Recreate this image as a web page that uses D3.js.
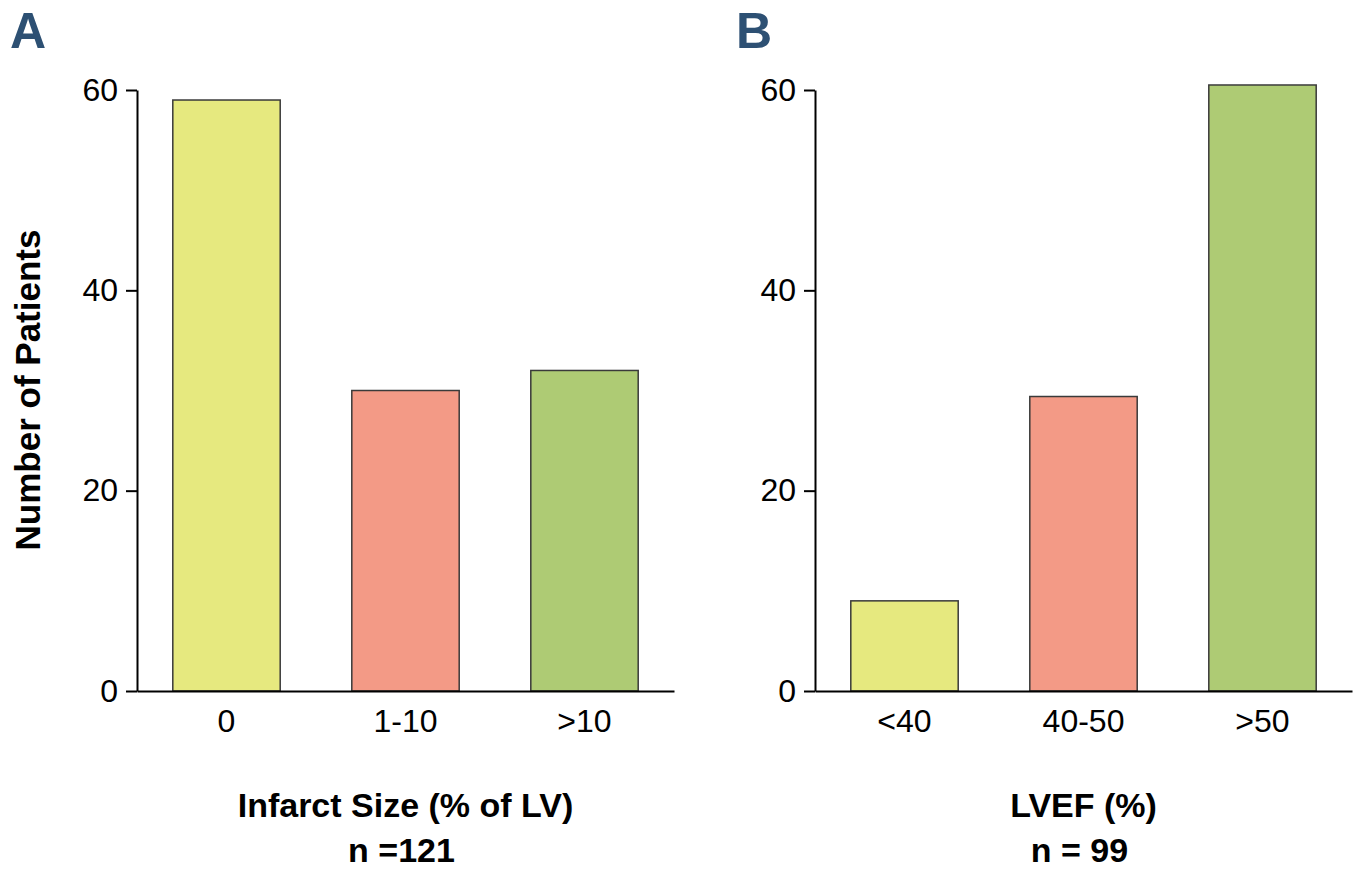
<!DOCTYPE html>
<html>
<head>
<meta charset="utf-8">
<script src="https://cdn.jsdelivr.net/npm/d3@7/dist/d3.min.js"></script>
<style>
  html, body { margin: 0; padding: 0; background: #fff; }
  svg { display: block; }
</style>
</head>
<body>
<svg id="chart" width="1358" height="871"></svg>
<script>
// ---- data ----
const categoriesA = ["0", "1-10", ">10"];
const valuesA = [59, 30, 32];
const categoriesB = ["<40", "40-50", ">50"];
const valuesB = [9, 29.4, 60.5];
const barColors = ["#e6e97f", "#f39a86", "#aecb74"];
const yTicks = [0, 20, 40, 60];
const panelLetters = ["A", "B"];
const xTitlesA = ["Infarct Size (% of LV)", "n =121"];
const xTitlesB = ["LVEF (%)", "n = 99"];
const yTitle = "Number of Patients";

const svg = d3.select("#chart");
const font = "'Liberation Sans', Arial, Helvetica, sans-serif";

const plotTop = 90, plotBottom = 691;
const y = d3.scaleLinear().domain([0, 60]).range([plotBottom, plotTop]);

function panel(x0, x1, cats, vals, letter, letterX, titles) {
  const g = svg.append("g");
  const x = d3.scaleBand().domain(cats).range([x0, x1]).paddingInner(0.4).paddingOuter(0.2);

  // bars
  g.selectAll("rect.bar").data(cats).enter().append("rect")
    .attr("class", "bar")
    .attr("x", d => x(d))
    .attr("width", x.bandwidth())
    .attr("y", (d, i) => y(vals[i]))
    .attr("height", (d, i) => y(0) - y(vals[i]))
    .attr("fill", (d, i) => barColors[i])
    .attr("stroke", "#3a3a3a")
    .attr("stroke-width", 1.5);

  // y axis
  const ya = g.append("g").attr("transform", `translate(${x0},0)`)
    .call(d3.axisLeft(y).tickValues(yTicks).tickSize(11).tickSizeOuter(0).tickPadding(8));
  ya.select(".domain").attr("stroke", "#000").attr("stroke-width", 2);
  ya.selectAll(".tick line").attr("stroke", "#000").attr("stroke-width", 2);
  ya.selectAll(".tick text").attr("font-family", font).attr("font-size", 32).attr("fill", "#000");

  // x axis
  const xa = g.append("g").attr("transform", `translate(0,${plotBottom})`)
    .call(d3.axisBottom(x).tickSize(0).tickSizeOuter(0).tickPadding(18));
  xa.select(".domain").attr("stroke", "#000").attr("stroke-width", 2);
  xa.selectAll(".tick text").attr("font-family", font).attr("font-size", 32).attr("fill", "#000");

  // x title
  const cx = (x0 + x1) / 2;
  g.append("text").attr("x", cx).attr("y", 817).attr("text-anchor", "middle")
    .attr("font-family", font).attr("font-weight", "bold").attr("font-size", 34)
    .text(titles[0]);
  g.append("text").attr("x", cx - 4).attr("y", 862).attr("text-anchor", "middle")
    .attr("font-family", font).attr("font-weight", "bold").attr("font-size", 34)
    .text(titles[1]);

  // panel letter
  svg.append("text").attr("x", letterX).attr("y", 48)
    .attr("font-family", font).attr("font-weight", "bold").attr("font-size", 50)
    .attr("fill", "#2d5073").text(letter);
}

panel(137, 674, categoriesA, valuesA, panelLetters[0], 10, xTitlesA);
panel(815, 1352, categoriesB, valuesB, panelLetters[1], 736, xTitlesB);

// y title
svg.append("text")
  .attr("transform", "translate(40,390) rotate(-90)")
  .attr("text-anchor", "middle")
  .attr("font-family", font).attr("font-weight", "bold").attr("font-size", 35)
  .text(yTitle);
</script>
</body>
</html>
